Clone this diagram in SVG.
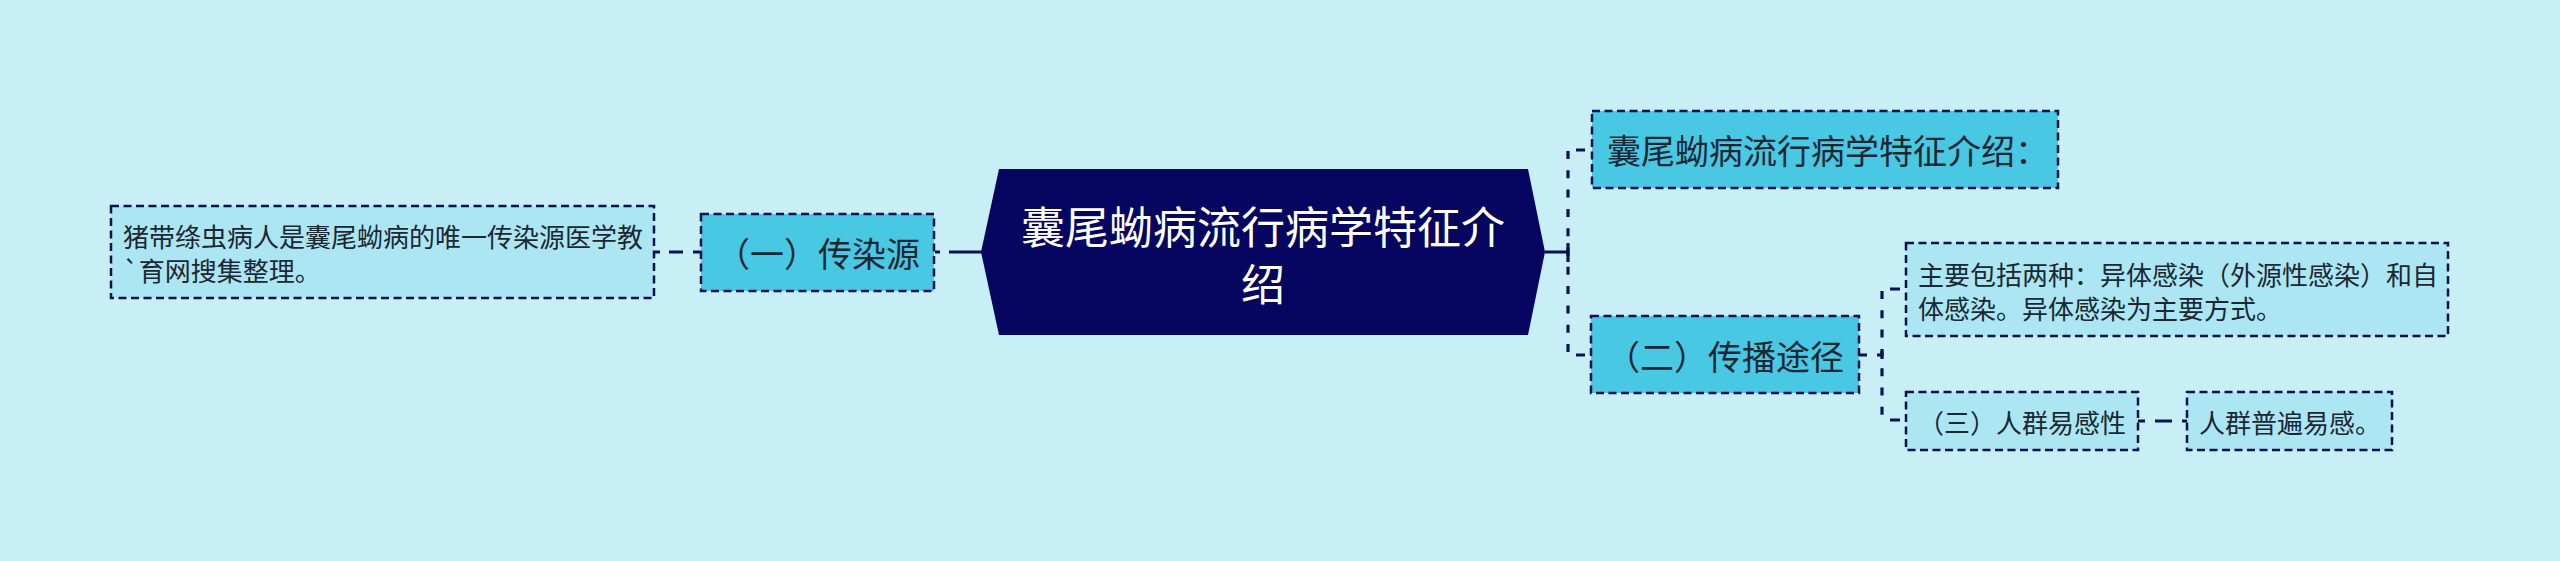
<svg xmlns="http://www.w3.org/2000/svg" width="2560" height="561" viewBox="0 0 2560 561">
<style>
.bg{fill:#c8eff6}
.l1{fill:#48c8e2;stroke:#0b1150;stroke-width:2.5;stroke-dasharray:8 4.5}
.lf{fill:#ace6f2;stroke:#0b1150;stroke-width:2.5;stroke-dasharray:8 4.5}
.t{font-family:"Noto Sans CJK SC","Noto Sans",sans-serif;fill:#1b2733;dominant-baseline:central}
.t1{font-size:34px}
.t2{font-size:26px}
.tc{font-family:"Noto Sans CJK SC","Noto Sans",sans-serif;font-size:44px;fill:#ffffff;dominant-baseline:central;text-anchor:middle}
.c{fill:none;stroke:#0b1150;stroke-width:3.2}
.cd{fill:none;stroke:#0b1150;stroke-width:3.2;stroke-dasharray:8 11.3}
</style>
<rect class="bg" x="0" y="0" width="2560" height="561"/>
<g id="connectors">
  <path class="c" d="M935 252H940M949 252H982"/>
  <path class="c" d="M655 252H660M669 252H683M693 252H702"/>
  <path class="c" d="M1545 252H1568M1568 243V262"/>
  <path class="cd" d="M1568 151V355"/>
  <path class="c" d="M1576 150H1585M1576 355H1585"/>
  <path class="c" d="M1859 355H1867M1877 355H1882"/>
  <path class="cd" d="M1882 291V420"/>
  <path class="c" d="M1882 351V359M1890 289H1900M1890 420H1900"/>
  <path class="c" d="M2138 421H2145M2155 421H2172M2182 421H2187"/>
</g>
<g id="center">
  <polygon points="999,169 1528,169 1545,252 1528,335 999,335 981,252" fill="#060660"/>
  <text class="tc"><tspan x="1263" y="225">囊尾蚴病流行病学特征介</tspan><tspan x="1263" y="282">绍</tspan></text>
</g>
<g id="node-intro">
  <rect class="l1" x="1592" y="111" width="466" height="77"/>
  <text class="t t1" x="1607" y="149">囊尾蚴病流行病学特征介绍：</text>
</g>
<g id="node-source">
  <rect class="l1" x="701" y="214" width="233" height="77"/>
  <text class="t t1" x="716" y="252">（一）传染源</text>
</g>
<g id="node-source-leaf">
  <rect class="lf" x="111" y="206" width="543" height="92"/>
  <text class="t t2"><tspan x="123" y="235">猪带绦虫病人是囊尾蚴病的唯一传染源医学教</tspan><tspan x="123" y="269">`育网搜集整理。</tspan></text>
</g>
<g id="node-route">
  <rect class="l1" x="1591" y="316" width="268" height="77"/>
  <text class="t t1" x="1606" y="355">（二）传播途径</text>
</g>
<g id="node-route-leaf">
  <rect class="lf" x="1906" y="243" width="542" height="93"/>
  <text class="t t2"><tspan x="1918" y="273">主要包括两种：异体感染（外源性感染）和自</tspan><tspan x="1918" y="307">体感染。异体感染为主要方式。</tspan></text>
</g>
<g id="node-susceptibility">
  <rect class="lf" x="1906" y="392" width="232" height="58"/>
  <text class="t t2" x="1918" y="421">（三）人群易感性</text>
</g>
<g id="node-susceptibility-leaf">
  <rect class="lf" x="2187" y="392" width="205" height="58"/>
  <text class="t t2" x="2199" y="421">人群普遍易感。</text>
</g>
</svg>
